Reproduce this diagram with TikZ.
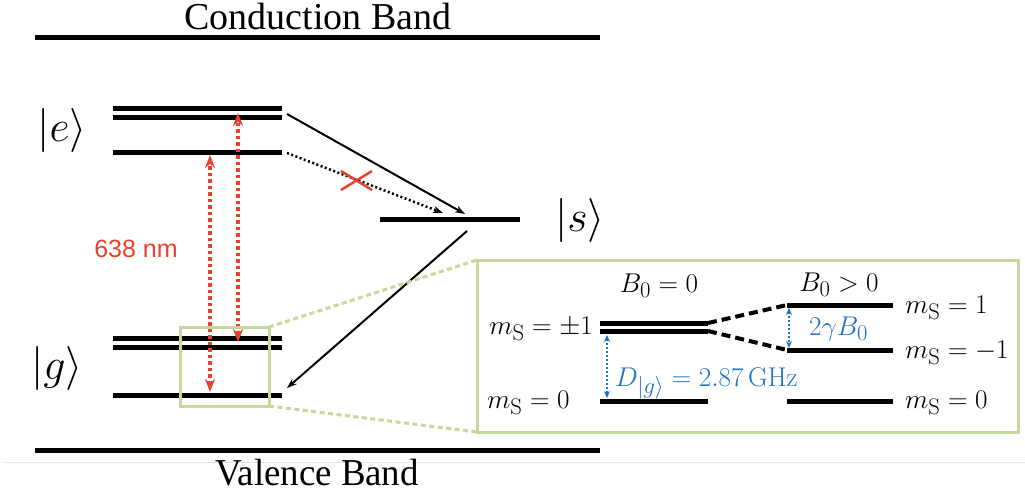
\documentclass[tikz,border=0pt]{standalone}
\usepackage{fontspec}
\newfontfamily\timesf{Liberation Serif}
\newfontfamily\arialf{Liberation Sans}
\usetikzlibrary{arrows.meta}
\definecolor{lred}{HTML}{E8412C}
\definecolor{lgreen}{HTML}{C5D89E}
\definecolor{lblue}{HTML}{1F73C6}
\begin{document}
\begin{tikzpicture}[x=1pt,y=-1pt,
  band/.style={line width=5pt},
  lvl/.style={line width=5pt},
  redarr/.style={lred,line width=4pt,dash pattern=on 3.5pt off 3pt,{Stealth[length=13pt,width=10pt]}-{Stealth[length=13pt,width=10pt]}},
  blkarr/.style={line width=2pt,-{Stealth[length=10pt,width=7pt]}},
  blkdot/.style={line width=2.5pt,dash pattern=on 2pt off 2.5pt,-{Stealth[length=10pt,width=7pt]}},
  bluearr/.style={lblue,line width=2pt,dash pattern=on 2pt off 2pt,{Stealth[length=7pt,width=6pt]}-{Stealth[length=7pt,width=6pt]}},
  splitline/.style={line width=4pt,dash pattern=on 9pt off 5pt},
  greenbox/.style={lgreen,line width=3pt},
  greendash/.style={lgreen,line width=3pt,dash pattern=on 5pt off 3.5pt},
  ket/.style={font=\Huge,scale=1.77,inner sep=0pt},
  lab/.style={font=\Huge,scale=1.09,inner sep=0pt},
  bandtxt/.style={font=\timesf\fontsize{38}{38}\selectfont,inner sep=0pt,anchor=base}
]
\useasboundingbox (0,0) rectangle (1025,492);
% faint separator
\draw[gray!20,line width=1pt] (5,462) -- (1025,462);
% bands
\node[bandtxt] (cbt) at (318,30) {Conduction Band};
\node[bandtxt,xscale=0.97] (vbt) at (317,485) {Valence Band};
\coordinate (cbL) at (35,38); \coordinate (cbR) at (600,38);
\coordinate (vbL) at (35,450); \coordinate (vbR) at (600,450);
\draw[band] (cbL) -- (cbR);
\draw[band] (vbL) -- (vbR);
% excited levels
\coordinate (e1L) at (113,109); \coordinate (e1R) at (282,109);
\coordinate (e2L) at (113,118); \coordinate (e2R) at (282,118);
\coordinate (e3L) at (113,152); \coordinate (e3R) at (282,152);
\draw[lvl] (e1L) -- (e1R);
\draw[lvl] (e2L) -- (e2R);
\draw[lvl] (e3L) -- (e3R);
% ground levels
\coordinate (g1L) at (113,338); \coordinate (g1R) at (282,338);
\coordinate (g2L) at (113,347); \coordinate (g2R) at (282,347);
\coordinate (g3L) at (113,395); \coordinate (g3R) at (282,395);
\draw[lvl] (g1L) -- (g1R);
\draw[lvl] (g2L) -- (g2R);
\draw[lvl] (g3L) -- (g3R);
% singlet level
\coordinate (sL) at (380,219); \coordinate (sR) at (520,219);
\draw[lvl] (sL) -- (sR);
% kets
\node[ket] (ke) at (62,130) {$|e\rangle$};
\node[ket] (ks) at (580,220) {$|s\rangle$};
\node[ket] (kg) at (57,368) {$|g\rangle$};
% optical transitions
\coordinate (rAb) at (210,392); \coordinate (rAt) at (210,155);
\coordinate (rBb) at (238,342); \coordinate (rBt) at (238,113);
\draw[redarr] (rAb) -- (rAt);
\draw[redarr] (rBb) -- (rBt);
\node[font=\arialf\fontsize{25}{25}\selectfont,text=lred,anchor=base,inner sep=0pt] (nm) at (136,257) {638 nm};
% intersystem crossing
\coordinate (isc1a) at (287,114); \coordinate (isc1b) at (465,214);
\coordinate (isc2a) at (287,153); \coordinate (isc2b) at (443,213);
\coordinate (isc3a) at (467,231); \coordinate (isc3b) at (287,388);
\draw[blkarr] (isc1a) -- (isc1b);
\draw[blkdot] (isc2a) -- (isc2b);
\draw[blkarr] (isc3a) -- (isc3b);
% red cross
\coordinate (x1) at (341,171); \coordinate (x2) at (372,190);
\coordinate (x3) at (341,190); \coordinate (x4) at (372,171);
\draw[lred,line width=2.5pt] (x1) -- (x2);
\draw[lred,line width=2.5pt] (x3) -- (x4);
% zoom boxes
\coordinate (zTL) at (180,327); \coordinate (zBR) at (269,406);
\coordinate (zTR) at (269,327); \coordinate (zBRc) at (269,406);
\coordinate (iTL) at (477,260); \coordinate (iBR) at (1018,432);
\coordinate (iBL) at (477,432);
\draw[greenbox] (zTL) rectangle (zBR);
\draw[greenbox] (iTL) rectangle (iBR);
\draw[greendash] (zTR) -- (iTL);
\draw[greendash] (zBRc) -- (iBL);
% inset levels
\coordinate (p1L) at (600,323); \coordinate (p1R) at (708,323);
\coordinate (p2L) at (600,331); \coordinate (p2R) at (708,331);
\coordinate (z0L) at (600,401); \coordinate (z0R) at (708,401);
\coordinate (q1L) at (787,305); \coordinate (q1R) at (893,305);
\coordinate (q2L) at (787,350); \coordinate (q2R) at (893,350);
\coordinate (q0L) at (787,401); \coordinate (q0R) at (893,401);
\draw[lvl] (p1L) -- (p1R);
\draw[lvl] (p2L) -- (p2R);
\draw[lvl] (z0L) -- (z0R);
\draw[lvl] (q1L) -- (q1R);
\draw[lvl] (q2L) -- (q2R);
\draw[lvl] (q0L) -- (q0R);
\draw[splitline] (p1R) -- (q1L);
\draw[splitline] (p2R) -- (q2L);
% inset labels
\node[lab,anchor=base] (b0a) at (659,292) {$B_0=0$};
\node[lab,anchor=base] (b0b) at (839,291) {$B_0>0$};
\node[lab,anchor=base east] (mpm) at (593,334) {$m_{\mathrm{S}}=\pm1$};
\node[lab,anchor=base west] (m0a) at (487,408) {$m_{\mathrm{S}}=0$};
\node[lab,anchor=base west] (mp1) at (905,313) {$m_{\mathrm{S}}=1$};
\node[lab,anchor=base west] (mm1) at (905,358) {$m_{\mathrm{S}}=-1$};
\node[lab,anchor=base west] (m0b) at (905,408) {$m_{\mathrm{S}}=0$};
% zero-field splitting
\coordinate (dT) at (607,335); \coordinate (dB) at (607,398);
\draw[bluearr] (dT) -- (dB);
\node[lab,anchor=base west,text=lblue] (dlab) at (615,386) {$D_{|g\rangle}=2.87\,\mathrm{GHz}$};
\coordinate (zT) at (789,308); \coordinate (zB) at (789,348);
\draw[bluearr] (zT) -- (zB);
\node[lab,anchor=base west,text=lblue] (zlab) at (809,335) {$2\gamma B_0$};
\end{tikzpicture}
\end{document}
